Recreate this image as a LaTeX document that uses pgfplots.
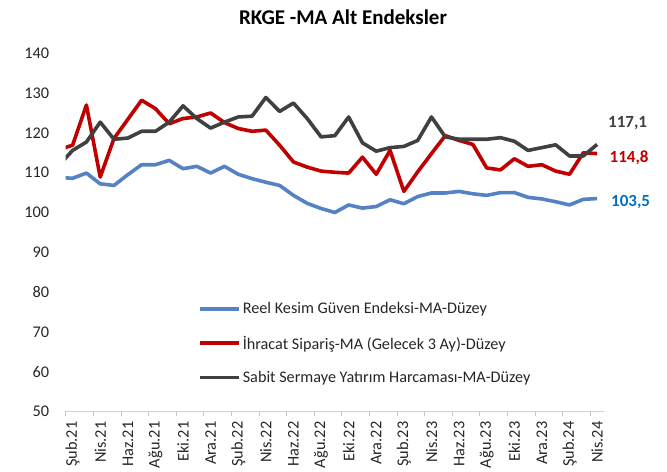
\documentclass[border=0pt]{standalone}
\usepackage{pgfplots}
\pgfplotsset{compat=1.18}
\usepackage{fontspec}
\setmainfont{Carlito}
\definecolor{cblue}{RGB}{84,130,196}
\definecolor{cred}{RGB}{192,0,0}
\definecolor{cgray}{RGB}{64,64,64}
\definecolor{lblue}{RGB}{0,112,192}
\definecolor{txt}{RGB}{38,38,38}
\begin{document}
\begin{tikzpicture}[x=1bp,y=1bp]
\path[use as bounding box] (0,0) rectangle (667,472);
\begin{axis}[
  at={(65.7bp,60.5bp)}, anchor=south west,
  scale only axis, width=538.3bp, height=358.2bp,
  xmin=-0.5, xmax=38.5, ymin=50, ymax=140,
  ytick={50,60,...,140},
  xtick={0,2,...,38},
  xticklabels={Şub.21,Nis.21,Haz.21,Ağu.21,Eki.21,Ara.21,Şub.22,Nis.22,Haz.22,Ağu.22,Eki.22,Ara.22,Şub.23,Nis.23,Haz.23,Ağu.23,Eki.23,Ara.23,Şub.24,Nis.24},
  minor xtick={-0.5,1.5,...,37.5},
  major tick length=0pt, minor tick length=5bp,
  tick align=outside,
  minor tick style={draw=black!22, line width=0.8bp},
  axis lines*=left,
  y axis line style={draw=none},
  x axis line style={draw=black!18, line width=0.8bp},
  /pgf/number format/assume math mode=true,
  tick label style={font=\fontsize{16.3bp}{19bp}\selectfont, text=txt},
  yticklabel style={anchor=east, inner sep=0pt, xshift=-16.4bp},
  xticklabel style={rotate=90, anchor=east, inner sep=0pt},
  xticklabel shift=10bp,
  clip mode=individual,
  legend cell align=left,
  legend style={at={(0.2458,0.31)}, anchor=north west, draw=none, fill=none,
    font=\fontsize{16.2bp}{19bp}\selectfont, text=txt, row sep=16.5bp, inner sep=0pt},
  legend image code/.code={\draw[#1] (0bp,0bp) -- (39bp,0bp);},
  every axis plot/.append style={line width=3.6bp, line join=round},
]
\addplot[cblue] coordinates {
(-1,108.8) (0,108.6) (1,109.9) (2,107.2) (3,106.8) (4,109.5) (5,112.0) (6,112.0) (7,113.1) (8,111.0) (9,111.6) (10,109.9) (11,111.6) (12,109.6) (13,108.5) (14,107.6) (15,106.8) (16,104.3) (17,102.3) (18,101.0) (19,100.0) (20,101.9) (21,101.1) (22,101.5) (23,103.2) (24,102.2) (25,104.0) (26,104.9) (27,104.9) (28,105.3) (29,104.7) (30,104.3) (31,105.0) (32,105.0) (33,103.8) (34,103.4) (35,102.7) (36,101.9) (37,103.3) (38,103.5)};
\addlegendentry{Reel Kesim Güven Endeksi-MA-Düzey}
\addplot[cred] coordinates {
(-1,115.8) (0,116.9) (1,127.0) (2,108.9) (3,118.6) (4,123.4) (5,128.2) (6,126.1) (7,122.3) (8,123.6) (9,124.0) (10,125.0) (11,122.6) (12,121.1) (13,120.4) (14,120.7) (15,116.9) (16,112.7) (17,111.4) (18,110.4) (19,110.1) (20,109.9) (21,113.9) (22,109.6) (23,115.6) (24,105.3) (25,110.2) (26,114.8) (27,119.3) (28,118.1) (29,117.1) (30,111.2) (31,110.7) (32,113.5) (33,111.6) (34,112.0) (35,110.4) (36,109.6) (37,115.0) (38,114.8)};
\addlegendentry{İhracat Sipariş-MA (Gelecek 3 Ay)-Düzey}
\addplot[cgray] coordinates {
(-1,111.8) (0,115.6) (1,117.7) (2,122.7) (3,118.4) (4,118.7) (5,120.4) (6,120.4) (7,122.7) (8,126.8) (9,123.6) (10,121.2) (11,122.7) (12,124.0) (13,124.2) (14,128.9) (15,125.4) (16,127.5) (17,123.6) (18,119.0) (19,119.3) (20,124.0) (21,117.5) (22,115.4) (23,116.3) (24,116.6) (25,118.1) (26,124.0) (27,119.0) (28,118.4) (29,118.4) (30,118.4) (31,118.8) (32,117.9) (33,115.6) (34,116.3) (35,117.0) (36,114.2) (37,114.2) (38,117.1)};
\addlegendentry{Sabit Sermaye Yatırım Harcaması-MA-Düzey}
\node[anchor=west, inner sep=0pt, xshift=4bp, text=cgray, font=\fontsize{17bp}{20bp}\selectfont\bfseries] at (axis cs:38.5,122.5) {117,1};
\node[anchor=west, inner sep=0pt, xshift=5.5bp, text=cred, font=\fontsize{17bp}{20bp}\selectfont\bfseries] at (axis cs:38.5,113.7) {114,8};
\node[anchor=west, inner sep=0pt, xshift=7bp, text=lblue, font=\fontsize{17bp}{20bp}\selectfont\bfseries] at (axis cs:38.5,102.7) {103,5};
\end{axis}
\node[font=\fontsize{21bp}{24bp}\selectfont\bfseries, text=black] at (343,455) {RKGE -MA Alt Endeksler};
\end{tikzpicture}
\end{document}
